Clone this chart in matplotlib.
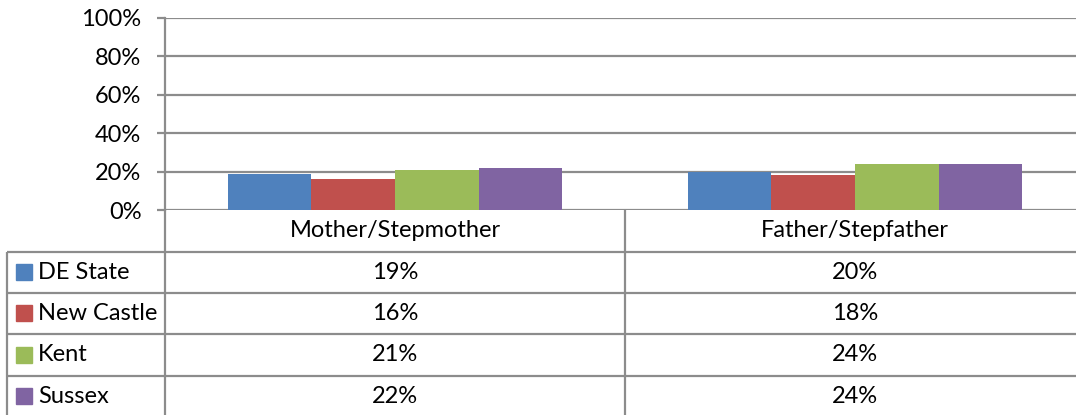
import matplotlib
matplotlib.use("Agg")
import matplotlib.pyplot as plt
from matplotlib.patches import Rectangle
from matplotlib.ticker import PercentFormatter

# Data
categories = ["Mother/Stepmother", "Father/Stepfather"]
series_names = ["DE State", "New Castle", "Kent", "Sussex"]
values = {
    "DE State":   [19, 20],
    "New Castle": [16, 18],
    "Kent":       [21, 24],
    "Sussex":     [22, 24],
}
colors = ["#4F81BD", "#C0504D", "#9BBB59", "#8064A2"]
y_ticks = [0, 20, 40, 60, 80, 100]

plt.rcParams["font.family"] = ["Lato", "DejaVu Sans"]
FS = 17
GRID = "#8C8C8C"
LW = 1.6

W, H, DPI = 1076, 415, 100
fig = plt.figure(figsize=(W / DPI, H / DPI), dpi=DPI)

# Layout in pixels (top-left origin)
ax_left, ax_right = 165, 1085
y_zero, y_top = 210, 18
label_left = 7
row_edges = [210, 251.5, 292.5, 334, 375.5, 417]

ax = fig.add_axes([ax_left / W, (H - y_zero) / H,
                   (ax_right - ax_left) / W, (y_zero - y_top) / H])
n = len(series_names)
bar_w = 1.0 / (n + 1.5)
for i, name in enumerate(series_names):
    xs = [c + (i - (n - 1) / 2) * bar_w for c in range(len(categories))]
    ax.bar(xs, values[name], width=bar_w, color=colors[i], zorder=3,
           edgecolor="none")

ax.set_xlim(-0.5, len(categories) - 0.5)
ax.set_ylim(0, 100)
ax.set_yticks(y_ticks)
ax.yaxis.set_major_formatter(PercentFormatter(decimals=0))
ax.set_xticks([])
ax.tick_params(axis="y", length=6, width=LW, color=GRID, labelsize=FS, pad=11)
ax.grid(axis="y", color=GRID, linewidth=LW, zorder=0)
for side in ["top", "right", "bottom"]:
    ax.spines[side].set_visible(False)
ax.spines["left"].set_color(GRID)
ax.spines["left"].set_linewidth(LW)

# Data table below the plot area
tab = fig.add_axes([0, 0, 1, 1], zorder=5)
tab.set_xlim(0, W)
tab.set_ylim(H, 0)
tab.axis("off")
tab.patch.set_alpha(0)

col_edges = [ax_left + k * (ax_right - ax_left) / len(categories)
             for k in range(len(categories) + 1)]

# horizontal rules
tab.hlines(row_edges[1:], label_left, W + 20, color=GRID, linewidth=LW)
# vertical rules
tab.vlines(label_left, row_edges[1], row_edges[-1], color=GRID, linewidth=LW)
tab.vlines(col_edges[0], y_zero, row_edges[-1], color=GRID, linewidth=LW)
for xe in col_edges[1:-1]:
    tab.vlines(xe, y_zero, row_edges[-1], color=GRID, linewidth=LW)

# category header
for j, cat in enumerate(categories):
    xc = (col_edges[j] + col_edges[j + 1]) / 2
    yc = (row_edges[0] + row_edges[1]) / 2
    tab.text(xc, yc, cat, ha="center", va="center", fontsize=FS)

# series rows
for i, name in enumerate(series_names):
    yc = (row_edges[i + 1] + row_edges[i + 2]) / 2
    tab.add_patch(Rectangle((16, yc - 8), 16, 16, color=colors[i]))
    tab.text(38, yc, name, ha="left", va="center", fontsize=FS)
    for j in range(len(categories)):
        xc = (col_edges[j] + col_edges[j + 1]) / 2
        tab.text(xc, yc, f"{values[name][j]}%", ha="center", va="center",
                 fontsize=FS)

fig.savefig("out.png", dpi=DPI)
